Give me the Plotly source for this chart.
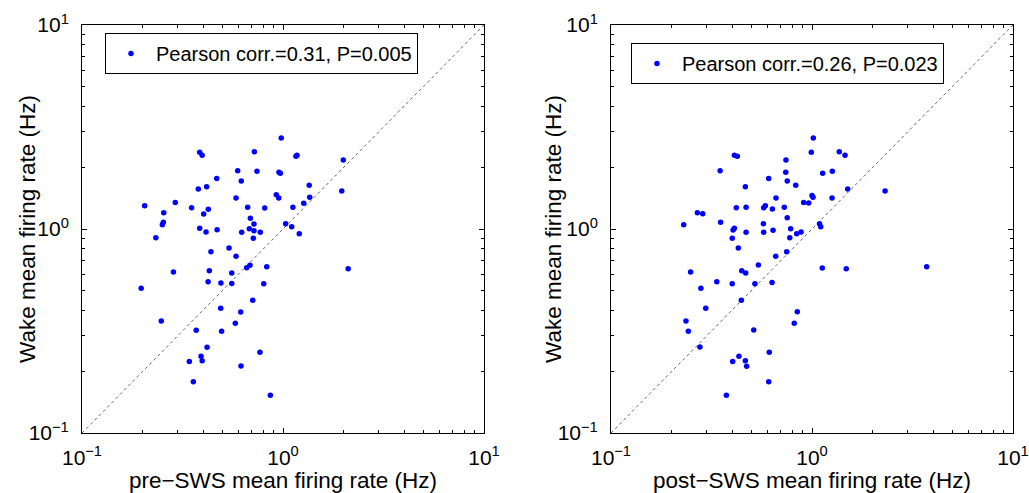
import plotly.graph_objects as go

# ---- data (Hz) ----
pre_sws_rate = [0.98, 0.385, 0.396, 0.72, 1.174, 1.16, 0.595, 0.742, 0.955, 0.97,
                0.468, 0.62, 0.417, 0.379, 0.926, 0.952, 0.584, 0.291, 0.205, 0.255,
                0.351, 0.425, 0.403, 0.667, 0.811, 1.12, 0.254, 0.251, 0.688, 0.717,
                1.031, 1.105, 1.205, 0.385, 0.47, 0.414, 0.623, 0.68, 0.717, 0.771,
                0.712, 0.233, 0.539, 0.438, 0.584, 0.685, 0.66, 0.83, 0.285, 0.43,
                0.556, 0.424, 0.491, 0.556, 0.802, 0.197, 0.707, 1.995, 1.35, 1.96,
                1.358, 1.268, 2.11, 0.248, 0.49, 0.616, 0.579, 0.37, 0.495, 0.419,
                0.391, 0.342, 0.396, 0.768, 0.618, 0.358, 0.865]
wake_rate_pre = [2.79, 2.38, 2.30, 2.39, 2.30, 2.27, 1.93, 1.92, 1.90, 1.875,
                 1.77, 1.72, 1.61, 1.57, 1.47, 1.42, 1.42, 1.35, 1.30, 1.20,
                 1.27, 1.25, 1.184, 1.277, 1.267, 1.28, 1.08, 1.05, 1.13, 1.058,
                 1.062, 1.026, 0.948, 1.008, 0.992, 0.967, 0.963, 1.003, 0.981, 0.963,
                 0.90, 0.906, 0.807, 0.774, 0.735, 0.664, 0.646, 0.653, 0.615, 0.625,
                 0.608, 0.552, 0.544, 0.541, 0.539, 0.512, 0.447, 2.18, 1.64, 1.535,
                 1.43, 1.336, 0.639, 0.354, 0.409, 0.392, 0.345, 0.319, 0.315, 0.263,
                 0.238, 0.224, 0.226, 0.249, 0.213, 0.1785, 0.153]

post_sws_rate = [1.015, 0.992, 0.411, 0.425, 0.742, 0.349, 0.74, 0.609, 0.753, 0.83,
                 0.466, 1.0, 1.012, 0.662, 0.909, 0.963, 0.269, 0.286, 0.42, 0.47,
                 0.575, 0.586, 0.635, 0.728, 0.753, 0.23, 0.351, 0.573, 1.09, 1.105,
                 0.411, 0.405, 0.47, 0.575, 0.64, 0.783, 0.882, 0.839, 0.775, 0.401,
                 0.43, 0.748, 0.66, 0.541, 0.447, 0.468, 0.249, 0.336, 0.401, 0.52,
                 0.633, 0.28, 0.445, 1.367, 1.46, 1.13, 1.262, 1.505, 2.31, 1.258,
                 1.125, 1.48, 3.72, 0.296, 0.236, 0.2425, 0.277, 0.513, 0.845, 0.816,
                 0.613, 0.433, 0.403, 0.466, 0.473, 0.609, 0.375]
wake_rate_post = [2.79, 2.38, 2.30, 2.27, 2.18, 1.93, 1.90, 1.77, 1.72, 1.64,
                  1.61, 1.46, 1.43, 1.42, 1.35, 1.34, 1.20, 1.188, 1.27, 1.277,
                  1.27, 1.30, 1.253, 1.28, 1.136, 1.05, 1.08, 1.062, 1.062, 1.026,
                  1.008, 0.989, 0.963, 0.963, 0.985, 1.003, 0.967, 0.948, 0.906, 0.90,
                  0.807, 0.774, 0.735, 0.666, 0.625, 0.608, 0.615, 0.552, 0.539, 0.539,
                  0.546, 0.512, 0.447, 2.39, 2.30, 1.875, 1.92, 1.57, 1.535, 1.42,
                  0.644, 0.639, 0.653, 0.409, 0.354, 0.315, 0.264, 0.32, 0.393, 0.345,
                  0.249, 0.238, 0.224, 0.226, 0.2123, 0.1785, 0.153]

axis_limits = [0.1, 10]
major_ticks = [0.1, 1, 10]
major_labels = ["10<sup>\u22121</sup>", "10<sup>0</sup>", "10<sup>1</sup>"]
minor_ticks = [0.2, 0.3, 0.4, 0.5, 0.6, 0.7, 0.8, 0.9, 2, 3, 4, 5, 6, 7, 8, 9]

legend_left = "Pearson corr.=0.31, P=0.005"
legend_right = "Pearson corr.=0.26, P=0.023"
xlabel_left = "pre\u2212SWS mean firing rate (Hz)"
xlabel_right = "post\u2212SWS mean firing rate (Hz)"
ylabel = "Wake mean firing rate (Hz)"

FONT = "Liberation Sans, Arial, Helvetica, sans-serif"
W, H = 1029, 493

fig = go.Figure()

panels = [
    (pre_sws_rate, wake_rate_pre, legend_left, "x", "y", "legend"),
    (post_sws_rate, wake_rate_post, legend_right, "x2", "y2", "legend2"),
]

for xs, ys, name, xa, ya, leg in panels:
    fig.add_trace(go.Scatter(
        x=axis_limits, y=axis_limits, mode="lines",
        line=dict(color="#666666", width=1, dash="dot"),
        showlegend=False, hoverinfo="skip", xaxis=xa, yaxis=ya))
    fig.add_trace(go.Scatter(
        x=xs, y=ys, mode="markers", name=name,
        marker=dict(color="#0000ff", size=5.5, symbol="circle"),
        xaxis=xa, yaxis=ya, legend=leg))

ax_common = dict(
    type="log", range=[-1, 1], showgrid=False, zeroline=False, automargin=False,
    showline=True, linecolor="black", linewidth=1, mirror="allticks",
    ticks="inside", ticklen=5, tickcolor="black", tickwidth=1,
    tickvals=major_ticks, ticktext=major_labels,
    tickfont=dict(family=FONT, size=21, color="black"),
    minor=dict(ticks="inside", tickvals=minor_ticks, ticklen=3, tickcolor="black", tickwidth=1),
)

ydom = [1 - 433 / H, 1 - 25 / H]
fig.update_layout(
    width=W, height=H,
    margin=dict(l=0, r=0, t=0, b=0),
    paper_bgcolor="white", plot_bgcolor="white",
    font=dict(family=FONT, color="black"),
    xaxis=dict(domain=[82 / W, 484 / W], anchor="y", ticklabelstandoff=6,
               title=dict(text=xlabel_left, font=dict(size=22.5), standoff=0), **ax_common),
    yaxis=dict(domain=ydom, anchor="x", ticklabelstandoff=8, **ax_common),
    xaxis2=dict(domain=[611 / W, 1013 / W], anchor="y2", ticklabelstandoff=6,
                title=dict(text=xlabel_right, font=dict(size=22.5), standoff=0), **ax_common),
    yaxis2=dict(domain=ydom, anchor="x2", ticklabelstandoff=8, **ax_common),
    legend=dict(x=105 / W, y=1 - 33 / H, xanchor="left", yanchor="top",
                bordercolor="black", borderwidth=1, bgcolor="white",
                font=dict(family=FONT, size=20, color="black"), itemwidth=40),
    legend2=dict(x=631 / W, y=1 - 43 / H, xanchor="left", yanchor="top",
                 bordercolor="black", borderwidth=1, bgcolor="white",
                 font=dict(family=FONT, size=20, color="black"), itemwidth=40),
)

# y-axis titles (placed close to the tick labels, as in the original)
for xpix in (28, 554):
    fig.add_annotation(text=ylabel, xref="paper", yref="paper",
                       x=xpix / W, y=(ydom[0] + ydom[1]) / 2,
                       xanchor="center", yanchor="middle", textangle=-90,
                       showarrow=False, font=dict(family=FONT, size=22.5, color="black"))

fig.write_html("out.html")
